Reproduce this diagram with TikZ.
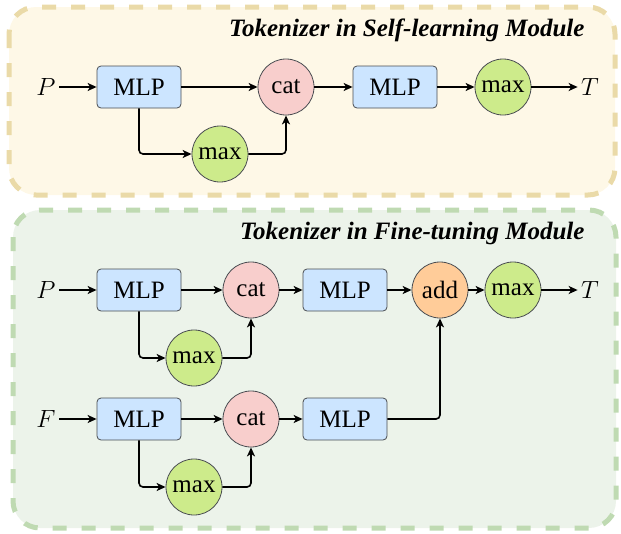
\documentclass[tikz,border=0pt]{standalone}
\usepackage{fontspec}
\setmainfont{Liberation Serif}
\usetikzlibrary{arrows.meta}

\definecolor{selfback}{HTML}{FEF8E7}
\definecolor{selfline}{HTML}{EADAA8}
\definecolor{fineback}{HTML}{ECF3EA}
\definecolor{fineline}{HTML}{BFDAB2}
\definecolor{mlpfill}{HTML}{CCE5FF}
\definecolor{catfill}{HTML}{F8CECC}
\definecolor{maxfill}{HTML}{CDEB8B}
\definecolor{addfill}{HTML}{FFCC99}
\definecolor{nodeline}{HTML}{4A4D52}

\begin{document}
\begin{tikzpicture}[x=1pt, y=-1pt]
				\tikzset{
					panel/.style={rounded corners=27pt, line width=5pt, dash pattern=on 14pt off 15pt},
					title/.style={anchor=east, font=\rmfamily\fontsize{25}{28}\selectfont\bfseries\itshape},
					op/.style={draw=nodeline, line width=0.8pt, font=\rmfamily\fontsize{25}{28}\selectfont},
					mlpbox/.style={op, rectangle, rounded corners=4pt, fill=mlpfill, minimum width=84pt, minimum height=42pt},
					opcircle/.style={op, circle, inner sep=0pt, minimum size=56pt},
					catnode/.style={opcircle, fill=catfill},
					maxnode/.style={opcircle, fill=maxfill},
					addnode/.style={opcircle, fill=addfill},
					io/.style={font=\fontsize{30}{32}\selectfont},
					flow/.style={-{Stealth[length=9pt, width=8pt, inset=2.5pt]}, line width=1.6pt, rounded corners=4pt}
				}
				\useasboundingbox (0,0) rectangle (621,533);

				\draw[panel, draw=selfline, fill=selfback] (9,7) rectangle (615,195);
				\draw[panel, draw=fineline, fill=fineback] (13,210) rectangle (616,528);
				\node[title] (selftitle) at (588,30) {Tokenizer in Self-learning Module};
				\node[title] (finetitle) at (588,233) {Tokenizer in Fine-tuning Module};

				\node[io] (pa) at (46,87) {$P$};
				\node[mlpbox] (mlpa) at (139,87) {MLP};
				\node[catnode] (cata) at (286,87) {cat};
				\node[maxnode] (maxa) at (220,154) {max};
				\node[mlpbox] (mlpb) at (395,87) {MLP};
				\node[maxnode] (maxb) at (503,87) {max};
				\node[io] (ta) at (590,87) {$T$};

				\draw[flow] (pa) -- (mlpa);
				\draw[flow] (mlpa) -- (cata);
				\draw[flow] (mlpa) |- (maxa);
				\draw[flow] (maxa) -| (cata);
				\draw[flow] (cata) -- (mlpb);
				\draw[flow] (mlpb) -- (maxb);
				\draw[flow] (maxb) -- (ta);

				\node[io] (pb) at (46,290) {$P$};
				\node[mlpbox] (mlpc) at (139,290) {MLP};
				\node[catnode] (catb) at (251,290) {cat};
				\node[maxnode] (maxc) at (194,358) {max};
				\node[mlpbox] (mlpd) at (345,290) {MLP};
				\node[addnode] (add) at (440,290) {add};
				\node[maxnode] (maxd) at (513,290) {max};
				\node[io] (tb) at (590,290) {$T$};

				\node[io] (fb) at (46,419) {$F$};
				\node[mlpbox] (mlpe) at (139,419) {MLP};
				\node[catnode] (catc) at (251,419) {cat};
				\node[maxnode] (maxe) at (194,487) {max};
				\node[mlpbox] (mlpf) at (345,419) {MLP};

				\draw[flow] (pb) -- (mlpc);
				\draw[flow] (mlpc) -- (catb);
				\draw[flow] (mlpc) |- (maxc);
				\draw[flow] (maxc) -| (catb);
				\draw[flow] (catb) -- (mlpd);
				\draw[flow] (mlpd) -- (add);
				\draw[flow] (add) -- (maxd);
				\draw[flow] (maxd) -- (tb);

				\draw[flow] (fb) -- (mlpe);
				\draw[flow] (mlpe) -- (catc);
				\draw[flow] (mlpe) |- (maxe);
				\draw[flow] (maxe) -| (catc);
				\draw[flow] (catc) -- (mlpf);
				\draw[flow] (mlpf) -| (add);
			\end{tikzpicture}
\end{document}
